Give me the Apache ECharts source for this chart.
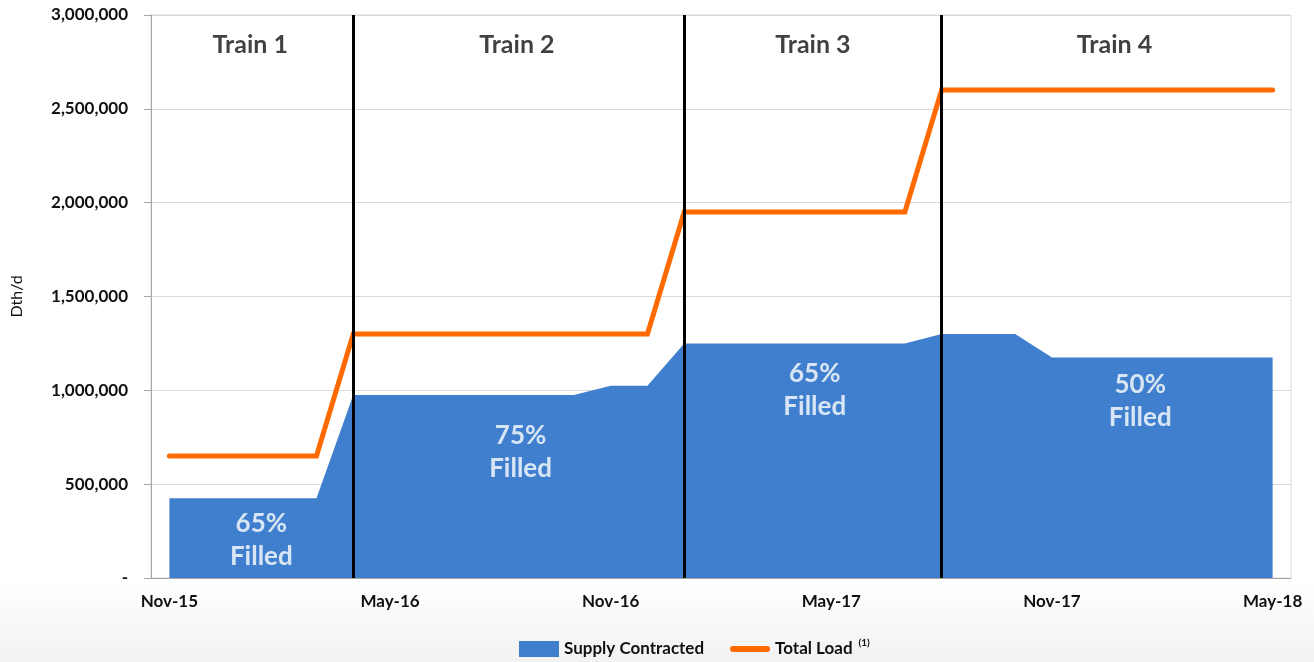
<!DOCTYPE html>
<html>
<head>
<meta charset="utf-8">
<script src="https://cdn.jsdelivr.net/npm/echarts@6/dist/echarts.min.js"></script>
<style>
html,body{margin:0;padding:0;background:#fff;}
#chart{width:1314px;height:662px;}
</style>
</head>
<body>
<div id="chart"></div>
<script>
// ---- data ----
const months = ['Nov-15','Dec-15','Jan-16','Feb-16','Mar-16','Apr-16','May-16','Jun-16','Jul-16','Aug-16','Sep-16','Oct-16',
  'Nov-16','Dec-16','Jan-17','Feb-17','Mar-17','Apr-17','May-17','Jun-17','Jul-17','Aug-17','Sep-17','Oct-17',
  'Nov-17','Dec-17','Jan-18','Feb-18','Mar-18','Apr-18','May-18'];
const supplyContracted = [425000,425000,425000,425000,425000,975000,975000,975000,975000,975000,975000,975000,
  1025000,1025000,1250000,1250000,1250000,1250000,1250000,1250000,1250000,1300000,1300000,1300000,
  1175000,1175000,1175000,1175000,1175000,1175000,1175000];
const totalLoad = [650000,650000,650000,650000,650000,1300000,1300000,1300000,1300000,1300000,1300000,1300000,
  1300000,1300000,1950000,1950000,1950000,1950000,1950000,1950000,1950000,2600000,2600000,2600000,
  2600000,2600000,2600000,2600000,2600000,2600000,2600000];
const trainStarts = ['Apr-16','Jan-17','Aug-17'];
const trainLabels = [['Train 1',2.2,2840000],['Train 2',9.45,2840000],['Train 3',17.5,2840000],['Train 4',25.7,2840000]];
const fillLabels = [['65%\nFilled',2.5,200000],['75%\nFilled',9.55,670000],['65%\nFilled',17.55,1000000],['50%\nFilled',26.4,940000]];

const font = 'Lato, "Open Sans", sans-serif';
const lineIcon = 'path://M0,0 M3,5 L37,5 A3,3 0 0 1 37,11 L3,11 A3,3 0 0 1 3,5 Z M40,16';
const chart = echarts.init(document.getElementById('chart'));
chart.setOption({
  animation:false,
  backgroundColor:{type:'linear',x:0,y:0,x2:0,y2:1,colorStops:[{offset:0,color:'#ffffff'},{offset:0.88,color:'#ffffff'},{offset:1,color:'#f2f2f2'}]},
  grid:{left:151,right:23,top:15,bottom:84,show:true,borderColor:'#d9d9d9',borderWidth:1},
  legend:{
    top:633,left:514,itemGap:26,
    textStyle:{fontFamily:font,fontWeight:'bold',fontSize:17,color:'#111',
      rich:{a:{fontFamily:font,fontWeight:'bold',fontSize:17,color:'#111'},s:{fontFamily:font,fontSize:10,color:'#111',verticalAlign:'top',padding:[0,0,12,6]}}},
    data:[{name:'Supply Contracted',icon:'rect',itemStyle:{color:'#3f7fcd'}},
          {name:'Total Load',icon:lineIcon,itemStyle:{color:'#ff6a00'}}],
    itemWidth:40,itemHeight:16,
    formatter:function(n){return n==='Total Load'?'{a|Total Load}{s|(1)}':n;}
  },
  xAxis:[{
    type:'category',data:months,boundaryGap:true,
    axisLine:{lineStyle:{color:'#a6a6a6',width:1}},
    axisTick:{interval:5,length:7,lineStyle:{color:'#a6a6a6'}},
    axisLabel:{interval:5,fontFamily:font,fontWeight:'bold',fontSize:17,color:'#111',margin:15},
    splitLine:{show:false}
  },{
    type:'value',min:-0.5,max:30.5,show:false
  }],
  yAxis:{
    type:'value',min:0,max:3000000,interval:500000,
    name:'Dth/d',nameLocation:'middle',nameGap:126,nameRotate:90,
    nameTextStyle:{fontFamily:font,fontSize:16,color:'#111'},
    axisLine:{show:true,onZero:false,lineStyle:{color:'#a6a6a6'}},
    axisTick:{show:true,length:7,lineStyle:{color:'#a6a6a6'}},
    axisLabel:{fontFamily:font,fontWeight:'bold',fontSize:17,color:'#111',margin:23,
      formatter:function(v){return v===0?'-':v.toLocaleString('en-US');}},
    splitLine:{lineStyle:{color:'#d9d9d9',width:1}}
  },
  series:[{
    name:'Supply Contracted',type:'line',data:supplyContracted,
    symbol:'none',lineStyle:{width:0},itemStyle:{color:'#3f7fcd'},
    areaStyle:{color:'#3f7fcd',opacity:1},z:2,
    markLine:{silent:true,symbol:'none',label:{show:false},
      lineStyle:{color:'#000',width:3,type:'solid'},
      data:trainStarts.map(function(m){return {xAxis:m};}),z:5}
  },{
    name:'Total Load',type:'line',data:totalLoad,
    symbol:'none',lineStyle:{width:5,color:'#ff6a00',cap:'round',join:'miter'},itemStyle:{color:'#ff6a00'},z:4
  },{
    type:'scatter',xAxisIndex:1,symbolSize:0,silent:true,z:6,
    data:trainLabels.map(function(t){return {value:[t[1],t[2]],label:{formatter:t[0]}};}),
    label:{show:true,position:'inside',fontFamily:font,fontWeight:'bold',fontSize:25,color:'#111'}
  },{
    type:'scatter',xAxisIndex:1,symbolSize:0,silent:true,z:6,
    data:fillLabels.map(function(t){return {value:[t[1],t[2]],label:{formatter:t[0]}};}),
    label:{show:true,position:'inside',fontFamily:font,fontWeight:'bold',fontSize:26,lineHeight:33,color:'#fff',align:'center'}
  }]
});
</script>
</body>
</html>
